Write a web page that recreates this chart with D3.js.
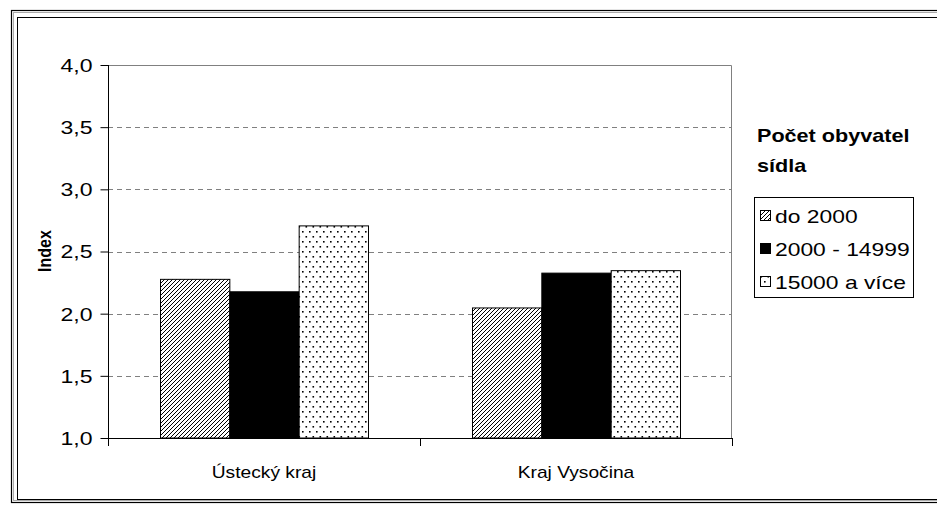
<!DOCTYPE html>
<html><head><meta charset="utf-8">
<script src="https://cdn.jsdelivr.net/npm/d3@7"></script>
<style>body{margin:0;background:#fff}svg{display:block;font-family:"Liberation Sans",Arial,sans-serif}</style>
</head><body><svg id="c" width="937" height="511"></svg>
<script>
const categories = ["Ústecký kraj", "Kraj Vysočina"];
const seriesNames = ["do 2000", "2000 - 14999", "15000 a více"];
const valsDo2000 = [2.28, 2.05];
const vals2000_14999 = [2.18, 2.33];
const vals15000 = [2.71, 2.35];
const yTicks = [1.0, 1.5, 2.0, 2.5, 3.0, 3.5, 4.0];
const yTitle = "Index";
const legendTitle = ["Počet obyvatel", "sídla"];

const seriesVals = [valsDo2000, vals2000_14999, vals15000];
const svg = d3.select("#c");
const defs = svg.append("defs");
const ph = defs.append("pattern").attr("id","hatch").attr("patternUnits","userSpaceOnUse").attr("width",4).attr("height",4);
ph.append("rect").attr("width",4).attr("height",4).attr("fill","#fff");
ph.append("path").attr("d","M-1,1 l2,-2 M0,4 l4,-4 M3,5 l2,-2").attr("stroke","#000").attr("stroke-width",1);
const pd = defs.append("pattern").attr("id","dots").attr("patternUnits","userSpaceOnUse").attr("width",7).attr("height",10);
pd.append("rect").attr("width",7).attr("height",10).attr("fill","#fff");
pd.append("rect").attr("x",1).attr("y",1).attr("width",1.6).attr("height",1.6).attr("fill","#000");
pd.append("rect").attr("x",4.5).attr("y",6).attr("width",1.6).attr("height",1.6).attr("fill","#000");
const fills = ["url(#hatch)", "#000", "url(#dots)"];

// helper: horizontally stretched text
function stext(g, x, y, txt, size, sx, anchor, bold) {
  return g.append("text").attr("transform", `translate(${x},${y}) scale(${sx},1)`)
    .attr("text-anchor", anchor || "start").attr("font-size", size)
    .attr("font-weight", bold ? "bold" : "normal").attr("fill", "#000").text(txt);
}

// frames
svg.append("rect").attr("x",11.5).attr("y",10.5).attr("width",960).attr("height",492).attr("fill","none").attr("stroke","#000").attr("stroke-width",1.2);
svg.append("rect").attr("x",13.5).attr("y",12.5).attr("width",960).attr("height",488).attr("fill","none").attr("stroke","#aaa").attr("stroke-width",1);
svg.append("rect").attr("x",17.5).attr("y",17.5).attr("width",960).attr("height",482).attr("fill","none").attr("stroke","#000").attr("stroke-width",1);

const L = 108, R = 732, T = 65, B = 438;
const x0 = d3.scaleBand().domain(categories).range([L, R]).paddingInner(0).paddingOuter(0);
const y = d3.scaleLinear().domain([1, 4]).range([B, T]);
const bw = x0.bandwidth() / 4.5;

// gridlines
svg.append("g").selectAll("line").data(yTicks.filter(d => d > 1 && d < 4)).join("line")
  .attr("x1", L).attr("x2", R).attr("y1", d => Math.round(y(d)) + 0.5).attr("y2", d => Math.round(y(d)) + 0.5)
  .attr("stroke", "#808080").attr("stroke-dasharray", "5,4");
svg.append("path").attr("d", `M${L},${Math.round(T)+0.5}H${R-0.5}V${B}`).attr("fill","none").attr("stroke","#808080");

// bars
categories.forEach((c, i) => {
  const gx = x0(c) + x0.bandwidth()/2 - 1.5*bw;
  seriesVals.forEach((vals, s) => {
    svg.append("rect")
      .attr("x", gx + s*bw + 0.5).attr("y", y(vals[i]) + 0.5)
      .attr("width", bw).attr("height", y(1) - y(vals[i]) - 0.5)
      .attr("fill", fills[s]).attr("stroke", "#000").attr("stroke-width", 1);
  });
});

// y axis
const ya = svg.append("g").attr("transform", `translate(${L + 0.5},0)`)
  .call(d3.axisLeft(y).tickValues(yTicks).tickSize(8).tickFormat(d => d3.format(".1f")(d).replace(".", ",")));
ya.select(".domain").attr("stroke", "#000").attr("d", `M0,${T}V${B}`);
ya.selectAll(".tick line").attr("stroke", "#000");
ya.selectAll(".tick text").attr("x", null).attr("dy", "0.36em")
  .attr("transform", "translate(-16,0) scale(1.28,1)")
  .attr("font-size", 18).attr("fill", "#000").attr("font-family", "Liberation Sans, Arial, sans-serif");

// x axis
const xa = svg.append("g").attr("transform", `translate(0,${B + 0.5})`)
  .call(d3.axisBottom(x0).tickSize(0));
xa.select(".domain").attr("stroke", "#000").attr("stroke-width", 1.2).attr("d", `M${L},0H${R}`);
xa.selectAll(".tick text").attr("y", null).attr("dy", null)
  .attr("transform", "translate(0,39) scale(1.2,1)")
  .attr("font-size", 16).attr("fill", "#000").attr("font-family", "Liberation Sans, Arial, sans-serif");
svg.append("g").selectAll("line").data([L, x0(categories[1]), R]).join("line")
  .attr("x1", d => Math.round(d) + 0.5).attr("x2", d => Math.round(d) + 0.5).attr("y1", B).attr("y2", B + 8).attr("stroke", "#000");

// y title
svg.append("text").attr("transform", "translate(51,251) scale(1.2,1) rotate(-90)").attr("text-anchor", "middle")
  .attr("font-size", 16).attr("font-weight", "bold").text(yTitle);

// legend
stext(svg, 757, 142, legendTitle[0], 18, 1.2, "start", true);
stext(svg, 757, 172, legendTitle[1], 18, 1.2, "start", true);
svg.append("rect").attr("x", 754.5).attr("y", 197.5).attr("width", 159).attr("height", 100).attr("fill", "#fff").attr("stroke", "#000");
seriesNames.forEach((n, s) => {
  const cy = 216 + s*33;
  svg.append("rect").attr("x", 760.5).attr("y", cy - 5.5).attr("width", 10).attr("height", 10).attr("fill", fills[s]).attr("stroke", "#000");
  stext(svg, 775, cy + 6.5, n, 18, 1.27, "start", false);
});
</script></body></html>
